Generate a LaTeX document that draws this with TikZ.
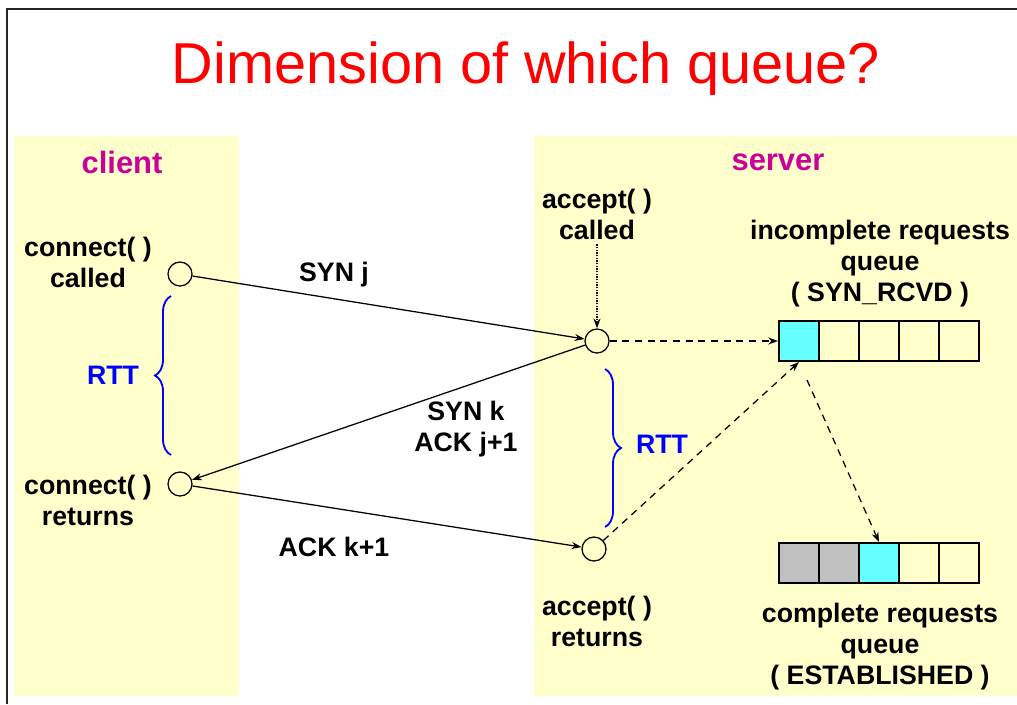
\documentclass[tikz,border=0pt]{standalone}
\usepackage{fontspec}
\setmainfont{Liberation Sans}
\usetikzlibrary{arrows.meta,positioning,decorations.pathreplacing}
\definecolor{panelyellow}{HTML}{FFFFCC}
\definecolor{headmagenta}{HTML}{CC0099}
\definecolor{slotcyan}{HTML}{66FFFF}
\definecolor{slotgray}{HTML}{C0C0C0}

\begin{document}
\begin{tikzpicture}[x=0.025cm, y=-0.025cm,
    lbl/.style={align=center, font=\bfseries\fontsize{19}{22}\selectfont},
    head/.style={font=\bfseries\fontsize{22}{26}\selectfont, text=headmagenta},
    rtt/.style={font=\bfseries\fontsize{19}{22}\selectfont, text=blue},
    evt/.style={circle, draw, line width=0.9pt, minimum size=0.6cm, inner sep=0pt},
    slot/.style={draw, line width=1.4pt, minimum size=1cm, inner sep=0pt},
    msg/.style={-{Stealth[length=7pt,width=5pt]}, line width=0.9pt},
    dsh/.style={-{Stealth[length=7pt,width=5pt]}, line width=0.9pt, dashed, dash pattern=on 5pt off 4pt},
    brc/.style={decorate, decoration={brace, amplitude=0.4cm}, draw=blue, line width=1.3pt}
]
\useasboundingbox (0,0) rectangle (1017,704);
% slide frame
\draw[line width=1.4pt, black!85] (7,704) -- (7,9) -- (1017,9);
\node[font=\fontsize{41}{46}\selectfont, text=red] (title) at (526,69) {Dimension of which queue?};

% panels
\fill[panelyellow] (14,136) rectangle (239,696);
\fill[panelyellow] (534,136) rectangle (1017,696);
\node[head] (client) at (122,162) {client};
\node[head] (server) at (778,162) {server};

% events
\node[evt] (c1) at (180,274) {};
\node[evt] (c2) at (180,484) {};
\node[evt] (s1) at (597,341) {};
\node[evt] (s2) at (594,549) {};

\node[lbl] (ccall) at (88,262) {connect( )\\called};
\node[lbl] (cret) at (88,500) {connect( )\\returns};
\node[lbl] (acall) at (597,214) {accept( )\\called};
\node[lbl] (aret) at (597,621) {accept( )\\returns};

% queues
\foreach \i/\c in {1/slotcyan,2/panelyellow,3/panelyellow,4/panelyellow,5/panelyellow}
    \node[slot, fill=\c] (inc\i) at ({759+40*\i},341) {};
\foreach \i/\c in {1/slotgray,2/slotgray,3/slotcyan,4/panelyellow,5/panelyellow}
    \node[slot, fill=\c] (est\i) at ({759+40*\i},563) {};
\node[lbl] (inclbl) at (880,264) {incomplete requests\\queue\\( SYN\_RCVD )};
\node[lbl] (estlbl) at (880,647) {complete requests\\queue\\( ESTABLISHED )};

% handshake
\draw[msg] (c1) -- (s1);
\draw[msg] (s1) -- (c2);
\draw[msg] (c2) -- (s2);
\node[lbl] (synj) at (334,275) {SYN j};
\node[lbl] (synk) at (466,429) {SYN k\\ACK j+1};
\node[lbl] (ackk) at (334,547) {ACK k+1};
\draw[msg, densely dotted] (acall) -- (s1);

\draw[dsh] (s1) -- (inc1);
\draw[dsh] (s2) -- (inc1.south);
\draw[dsh, shorten <=14pt] (inc1.south) -- (est3.north);

% round trip times
\draw[brc] (171,455) -- (171,296);
\node[rtt] (rttc) at (113,375) {RTT};
\draw[brc] (605,369) -- (605,527);
\node[rtt] (rtts) at (662,444) {RTT};
\end{tikzpicture}
\end{document}
